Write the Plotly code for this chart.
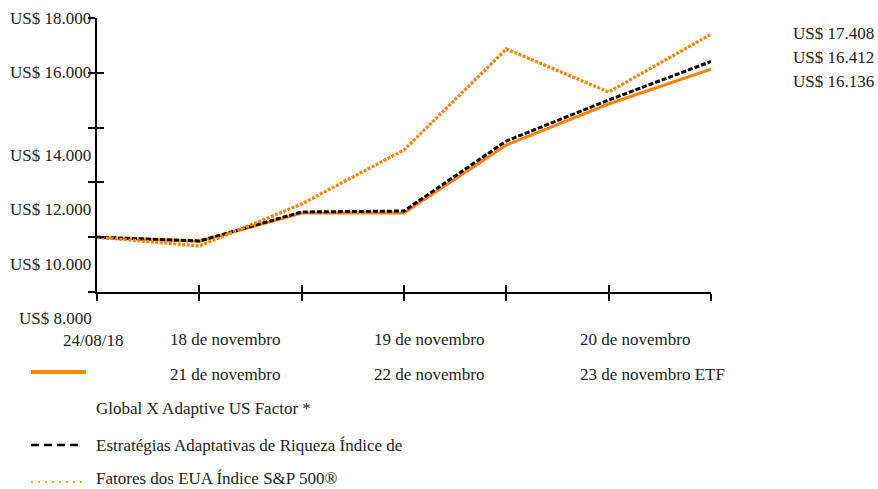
import plotly.graph_objects as go

# ---- data ----
x_labels = ["24/08/18", "18 de novembro", "19 de novembro", "20 de novembro",
            "21 de novembro", "22 de novembro", "23 de novembro ETF"]
x_idx = [0, 1, 2, 3, 4, 5, 6]
etf = [10000, 9850, 10880, 10880, 13365, 14861, 16136]          # Global X Adaptive US Factor ETF
idx_adapt = [10000, 9861, 10920, 10956, 13511, 15007, 16412]    # Adaptive Wealth Strategies index
sp500 = [10000, 9679, 11212, 13182, 16869, 15299, 17408]        # S&P 500
y_ticks = [8000, 10000, 12000, 14000, 16000, 18000]
series_names = ["Global X Adaptive US Factor *",
                "Estratégias Adaptativas de Riqueza Índice de",
                "Fatores dos EUA Índice S&P 500®"]

ORANGE = "#FF8200"
FONT = "Liberation Serif"
FS = 17

W, H = 878, 489
L, T = 97, 18
R = W - 711
B = H - 292
PW, PH = W - L - R, H - T - B


def px(x):
    return (x - L) / PW


def py(y):
    return (H - B - y) / PH


def fmt(v):
    return "US$ " + f"{v:,.0f}".replace(",", ".")


fig = go.Figure()
fig.add_trace(go.Scatter(x=x_idx, y=etf, mode="lines", name=series_names[0],
                         line=dict(color=ORANGE, width=3)))
fig.add_trace(go.Scatter(x=x_idx, y=idx_adapt, mode="lines", name=series_names[1],
                         line=dict(color="black", width=3, dash="5px,2px")))
fig.add_trace(go.Scatter(x=x_idx, y=sp500, mode="lines", name=series_names[2],
                         line=dict(color=ORANGE, width=3.2, dash="3px,1.5px")))
# overlay axes trace for crossing ticks
fig.add_trace(go.Scatter(x=x_idx, y=etf, mode="lines", xaxis="x2", yaxis="y2",
                         line=dict(width=0), hoverinfo="skip", showlegend=False,
                         opacity=0))

axis_common = dict(showgrid=False, zeroline=False, showline=True, linecolor="black",
                   linewidth=2, tickcolor="black", tickwidth=2, ticklen=7)
fig.update_layout(
    width=W, height=H, margin=dict(l=L, r=R, t=T, b=B),
    paper_bgcolor="white", plot_bgcolor="white", showlegend=False,
    font=dict(family=FONT, size=FS, color="#222"),
    xaxis=dict(range=[0, 6], tickvals=x_idx, ticks="outside", showticklabels=False,
               **axis_common),
    yaxis=dict(range=[8000, 18000], tickvals=y_ticks, ticks="outside", showticklabels=False,
               **axis_common),
    xaxis2=dict(range=[0, 6], tickvals=x_idx, ticks="inside", showticklabels=False,
                overlaying="x", anchor="y2", **axis_common),
    yaxis2=dict(range=[8000, 18000], tickvals=y_ticks, ticks="inside", showticklabels=False,
                overlaying="y", anchor="x2", **axis_common),
)

ann = []
# y labels (as printed in the source, offset from the ticks)
label_vals = [18000, 16000, 13000, 11000, 9000]
for v, t in zip(label_vals, [18000, 16000, 14000, 12000, 10000]):
    ann.append(dict(xref="paper", yref="paper", x=px(93), y=(v - 8000) / 10000,
                    text=fmt(t), showarrow=False, xanchor="right", yanchor="middle"))
ann.append(dict(xref="paper", yref="paper", x=px(94), y=py(318),
                text=fmt(y_ticks[0]), showarrow=False, xanchor="right", yanchor="middle"))

# x labels
ann.append(dict(xref="paper", yref="paper", x=px(93), y=py(340), text=x_labels[0],
                showarrow=False, xanchor="center", yanchor="middle"))
cols = [168, 372, 578]
for i, lab in enumerate(x_labels[1:]):
    row = i // 3
    col = i % 3
    ann.append(dict(xref="paper", yref="paper", x=px(cols[col]), y=py(339 + 35 * row),
                    text=lab, showarrow=False, xanchor="left", yanchor="middle"))

# end values
for v, yy in zip([sp500[-1], idx_adapt[-1], etf[-1]], [33, 57, 81]):
    ann.append(dict(xref="paper", yref="paper", x=px(792), y=py(yy), text=fmt(v),
                    showarrow=False, xanchor="left", yanchor="middle", borderpad=0))

# legend texts
for name, yy in zip(series_names[:2], [409, 445]):
    ann.append(dict(xref="paper", yref="paper", x=px(95), y=py(yy), text=name,
                    showarrow=False, xanchor="left", yanchor="middle", borderpad=0))
ann.append(dict(xref="paper", yref="paper", x=px(95), y=py(489), text=series_names[2],
                showarrow=False, xanchor="left", yanchor="bottom", borderpad=0))

fig.update_layout(annotations=ann)

shapes = [
    dict(type="line", xref="paper", yref="paper", x0=px(31), x1=px(86), y0=py(372), y1=py(372),
         line=dict(color=ORANGE, width=4)),
    dict(type="line", xref="paper", yref="paper", x0=px(31), x1=px(81), y0=py(445), y1=py(445),
         line=dict(color="black", width=2.5, dash="8px,5px")),
    dict(type="line", xref="paper", yref="paper", x0=px(31), x1=px(85), y0=py(482), y1=py(482),
         line=dict(color=ORANGE, width=1.5, dash="2px,5px")),
]
fig.update_layout(shapes=shapes)

fig.write_html("out.html", config={"displayModeBar": False},
               post_script="document.body.style.margin='0';document.body.style.overflow='hidden';")
